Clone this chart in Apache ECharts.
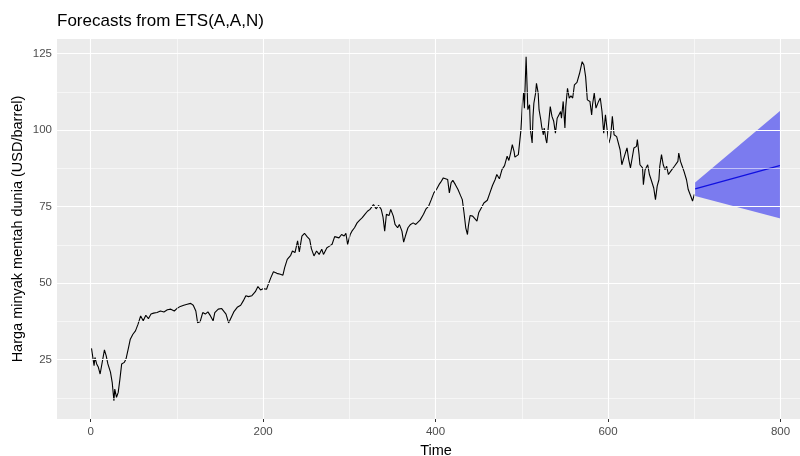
<!DOCTYPE html>
<html>
<head>
<meta charset="utf-8">
<script src="https://cdn.jsdelivr.net/npm/echarts@6/dist/echarts.min.js"></script>
<style>
html,body{margin:0;padding:0;background:#fff;overflow:hidden;}
#chart{width:816px;height:456px;}
</style>
</head>
<body>
<div id="chart"></div>
<script>
// Historical series (time index, price)
const histTime = [1,4,5,7,9,11,13,16,18,20,23,25,27,28,30,32,34,36,39,41,44,46,49,52,55,58,61,64,67,70,73,77,81,85,89,93,97,100,104,108,112,116,119,122,124,127,130,133,136,139,142,144,
148,152,155,157,160,162,166,170,174,177,180,183,187,191,194,197,200,204,206,209,212,216,220,223,225,228,232,234,237,240,242,245,248,251,254,256,259,262,265,268,270,274,277,280,283,
285,288,291,294,296,298,301,303,306,309,312,315,318,321,324,326,328,331,334,337,339,341,343,346,348,351,353,356,358,361,363,365,368,371,374,377,379,382,384,386,389,392,395,398,401,404,406,409,411,414,416,418,420,423,426,429,
431,433,435,437,438,440,443,445,448,450,453,456,460,463,466,469,471,474,477,480,483,485,487,489,491,492,496,498,499,501,502,503,505,506,507,509,510,512,513,514,516,517,519,520,522,523,525,526,528,529,531,533,535,537,539,541,543,545,546,548,550,551,553,555,557,559,
561,564,567,570,572,574,576,579,581,582,584,586,589,591,593,595,597,599,601,603,605,607,610,612,614,616,619,622,624,626,628,630,633,634,636,637,640,641,643,646,648,650,653,655,657,659,660,662,664,666,668,670,672,674,677,679,681,682,684,686,688,691,693,696,698,700];
const histPrice = [28.7,23.0,25.7,23.6,22.5,20.3,20.3,28.2,26.3,23.6,20.9,17.6,11.6,15.4,12.7,14.3,18.7,23.6,24.1,25.2,29.0,31.7,33.3,34.4,36.6,39.3,37.7,39.5,38.4,39.9,40.2,40.4,40.9,40.6,41.3,41.5,40.9,41.7,42.4,42.8,43.1,43.4,42.8,40.9,37.1,37.4,40.4,39.9,40.6,39.3,37.7,40.4,
41.5,41.7,40.6,39.9,37.0,36.5,40.6,42.1,42.8,44.2,45.9,45.6,45.9,47.2,48.9,47.8,48.2,48.0,49.6,51.8,53.7,53.2,52.9,52.6,55.1,57.8,59.1,60.5,60.0,63.8,60.2,65.4,66.3,65.2,64.3,61.3,58.9,60.5,59.4,61.1,59.4,61.6,62.1,62.7,65.2,
65.2,64.8,65.9,65.4,66.3,62.7,65.9,67.0,68.1,69.7,70.6,71.4,72.5,73.5,74.1,73.9,75.7,74.3,75.4,74.1,71.7,67.0,72.5,72.1,74.1,71.9,69.2,68.1,69.2,67.0,63.4,65.4,68.1,69.2,69.7,69.2,68.6,70.6,70.8,72.5,74.3,75.2,77.3,79.5,80.6,82.2,83.0,84.4,85.0,83.9,79.5,82.8,83.6,82.2,80.6,78.6,
77.3,73.0,68.1,65.9,68.6,72.1,71.9,72.4,70.3,73.0,74.6,76.2,77.1,79.5,81.9,83.8,85.5,84.1,87.1,88.4,91.5,90.1,92.5,95.3,93.1,91.2,92.0,92.3,100.1,109.9,112.1,107.2,124.0,115.3,106.7,108.3,100.1,95.8,104.5,108.8,112.1,115.3,112.1,106.7,103.4,101.2,98.5,100.7,96.9,95.8,101.8,107.7,104.5,102.9,99.0,103.9,105.0,106.1,103.9,109.4,100.7,107.7,113.7,110.5,111.2,110.5,
114.8,115.6,118.6,122.4,121.3,117.5,109.9,109.4,105.0,108.3,112.1,107.2,109.4,110.5,106.1,99.0,105.0,100.1,95.8,97.9,104.5,98.5,97.9,97.9,93.6,88.7,91.5,94.2,90.4,87.7,90.9,94.2,94.7,96.9,92.0,88.7,87.7,82.2,87.1,88.7,85.5,83.8,81.1,77.3,81.7,83.8,88.2,92.0,88.7,87.1,88.2,85.5,85.5,87.1,88.2,88.7,89.8,92.5,89.8,88.2,86.6,83.8,80.6,78.4,76.8,79.0];

// Forecast (point forecast and prediction interval)
const fcTime = [701, 800];
const fcMean = [80.8, 88.5];
const fcUpper = [82.9, 106.4];
const fcLower = [78.5, 71.1];

// Axis breaks
const xMajor = [0, 200, 400, 600, 800];
const xMinor = [100, 300, 500, 700];
const yMajor = [25, 50, 75, 100, 125];
const yMinor = [12.5, 37.5, 62.5, 87.5, 112.5];

const FONT = 'Liberation Sans, Arial, sans-serif';
const histData = histTime.map((t, i) => [t, histPrice[i]]);
const fcData = fcTime.map((t, i) => [t, fcMean[i]]);

const gridLines = [].concat(
  xMinor.map(v => ({ xAxis: v, lineStyle: { width: 0.55 } })),
  yMinor.map(v => ({ yAxis: v, lineStyle: { width: 0.55 } })),
  xMajor.map(v => ({ xAxis: v, lineStyle: { width: 1.1 } })),
  yMajor.map(v => ({ yAxis: v, lineStyle: { width: 1.1 } }))
);

const chart = echarts.init(document.getElementById('chart'), null, { renderer: 'canvas' });
chart.setOption({
  animation: false,
  backgroundColor: '#ffffff',
  title: {
    text: 'Forecasts from ETS(A,A,N)',
    left: 52, top: 8,
    textStyle: { fontFamily: FONT, fontSize: 17, fontWeight: 'normal', color: '#000' }
  },
  grid: {
    left: 57, right: 1, top: 39, bottom: 37,
    outerBoundsMode: 'none', containLabel: false,
    show: true, backgroundColor: '#EBEBEB', borderWidth: 0
  },
  xAxis: {
    type: 'value', min: -39, max: 840,
    name: 'Time', nameLocation: 'middle', nameGap: 24, nameMoveOverlap: false,
    nameTextStyle: { fontFamily: FONT, fontSize: 14.5, color: '#000' },
    axisLine: { show: false },
    axisTick: { show: true, customValues: xMajor, length: 3, lineStyle: { color: '#333', width: 1 } },
    axisLabel: { customValues: xMajor, fontFamily: FONT, fontSize: 11.5, color: '#4D4D4D', margin: 7 },
    splitLine: { show: false }
  },
  yAxis: {
    type: 'value', min: 5.6, max: 129.8,
    name: 'Harga minyak mentah dunia (USD/barrel)', nameLocation: 'middle', nameGap: 32,
    nameRotate: 90, nameMoveOverlap: false,
    nameTextStyle: { fontFamily: FONT, fontSize: 14.5, color: '#000' },
    axisLine: { show: false },
    axisTick: { show: true, customValues: yMajor, length: 3, lineStyle: { color: '#333', width: 1 } },
    axisLabel: { customValues: yMajor, fontFamily: FONT, fontSize: 11.5, color: '#4D4D4D', margin: 5 },
    splitLine: { show: false }
  },
  series: [
    {
      type: 'line', data: [], z: 1, silent: true,
      markLine: {
        silent: true, symbol: 'none', animation: false,
        label: { show: false },
        lineStyle: { type: 'solid', color: '#ffffff' },
        emphasis: { disabled: true },
        data: gridLines
      }
    },
    {
      type: 'custom', z: 2, silent: true,
      data: [[fcTime[0], fcMean[0]]],
      renderItem: function (params, api) {
        const pts = [];
        for (let i = 0; i < fcTime.length; i++) pts.push(api.coord([fcTime[i], fcUpper[i]]));
        for (let i = fcTime.length - 1; i >= 0; i--) pts.push(api.coord([fcTime[i], fcLower[i]]));
        return { type: 'polygon', shape: { points: pts }, style: { fill: '#7B7BEF', stroke: null } };
      }
    },
    {
      type: 'line', data: histData, z: 3, showSymbol: false, silent: true,
      lineStyle: { color: '#000000', width: 1.1 }
    },
    {
      type: 'line', data: fcData, z: 4, showSymbol: false, silent: true,
      lineStyle: { color: '#1010E0', width: 1.2 }
    }
  ]
});
</script>
</body>
</html>
